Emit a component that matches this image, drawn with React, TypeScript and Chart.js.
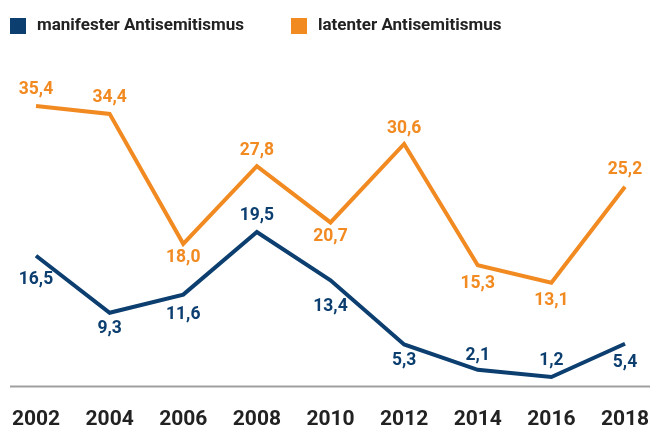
import React, { useEffect, useRef } from "react";
import { Chart, registerables } from "chart.js";

Chart.register(...registerables);

const years = ["2002", "2004", "2006", "2008", "2010", "2012", "2014", "2016", "2018"];
const manifest = [16.5, 9.3, 11.6, 19.5, 13.4, 5.3, 2.1, 1.2, 5.4];
const latent = [35.4, 34.4, 18.0, 27.8, 20.7, 30.6, 15.3, 13.1, 25.2];
const seriesNames = ["manifester Antisemitismus", "latenter Antisemitismus"];

const BLUE = "#0C3F70";
const ORANGE = "#F28A22";
const FONT = "Roboto, 'Noto Sans', sans-serif";

// per-point label offsets (px, positive = below the point)
const labelOffsets = [
  [23.5, 16, 20, -16, 26, 16, -14, -16, 19],
  [-16, -16, 14, -16, 14, -15, 18, 18, -17],
];

const fmt = (v: number) => v.toFixed(1).replace(".", ",");

const extrasPlugin = {
  id: "extras",
  afterDraw(chart: any) {
    const ctx = chart.ctx;
    const yScale = chart.scales.y;
    const y0 = yScale.getPixelForValue(0);
    ctx.save();
    // baseline
    ctx.strokeStyle = "#a0a0a0";
    ctx.lineWidth = 2;
    ctx.beginPath();
    ctx.moveTo(10, y0);
    ctx.lineTo(650, y0);
    ctx.stroke();

    // data labels
    ctx.font = `bold 17.5px ${FONT}`;
    ctx.textAlign = "center";
    ctx.textBaseline = "middle";
    chart.data.datasets.forEach((ds: any, di: number) => {
      const meta = chart.getDatasetMeta(di);
      ctx.fillStyle = ds.borderColor;
      meta.data.forEach((pt: any, i: number) => {
        ctx.fillText(fmt(ds.data[i]), pt.x, pt.y + labelOffsets[di][i]);
      });
    });

    // legend
    const legendX = [10, 291];
    ctx.font = `bold 17px ${FONT}`;
    ctx.textAlign = "left";
    chart.data.datasets.forEach((ds: any, di: number) => {
      const x = legendX[di];
      ctx.fillStyle = ds.borderColor;
      ctx.fillRect(x, 18, 16, 16);
      ctx.fillStyle = "#222222";
      ctx.fillText(ds.label, x + 27, 26);
    });
    ctx.restore();
  },
};

export default function App() {
  const ref = useRef<HTMLCanvasElement>(null);
  useEffect(() => {
    if (!ref.current) return;
    const chart = new Chart(ref.current, {
      type: "line",
      data: {
        labels: years,
        datasets: [
          {
            label: seriesNames[0],
            data: manifest,
            borderColor: BLUE,
            backgroundColor: BLUE,
            borderWidth: 4,
            pointRadius: 0,
            tension: 0,
            borderJoinStyle: "miter",
          },
          {
            label: seriesNames[1],
            data: latent,
            borderColor: ORANGE,
            backgroundColor: ORANGE,
            borderWidth: 4,
            pointRadius: 0,
            tension: 0,
            borderJoinStyle: "miter",
          },
        ],
      },
      options: {
        animation: false,
        responsive: false,
        layout: { padding: { left: 36, right: 25, top: 60, bottom: 0 } },
        plugins: {
          legend: { display: false },
          tooltip: { enabled: false },
        },
        scales: {
          x: {
            offset: false,
            grid: { display: false, drawTicks: false },
            border: { display: false },
            ticks: {
              color: "#222222",
              font: { family: FONT, size: 21, weight: "bold" },
              padding: 20.5,
              maxRotation: 0,
              autoSkip: false,
            },
            afterFit: (scale: any) => {
              scale.paddingLeft = 0;
              scale.paddingRight = 0;
              scale.height = 43.5;
            },
          },
          y: {
            display: false,
            min: 0,
            max: 41.2,
          },
        },
      },
      plugins: [extrasPlugin],
    });
    return () => chart.destroy();
  }, []);
  return (
    <div style={{ position: "fixed", left: 0, top: 0, width: 650, height: 430, background: "#fff" }}>
      <canvas ref={ref} width={650} height={430} />
    </div>
  );
}
